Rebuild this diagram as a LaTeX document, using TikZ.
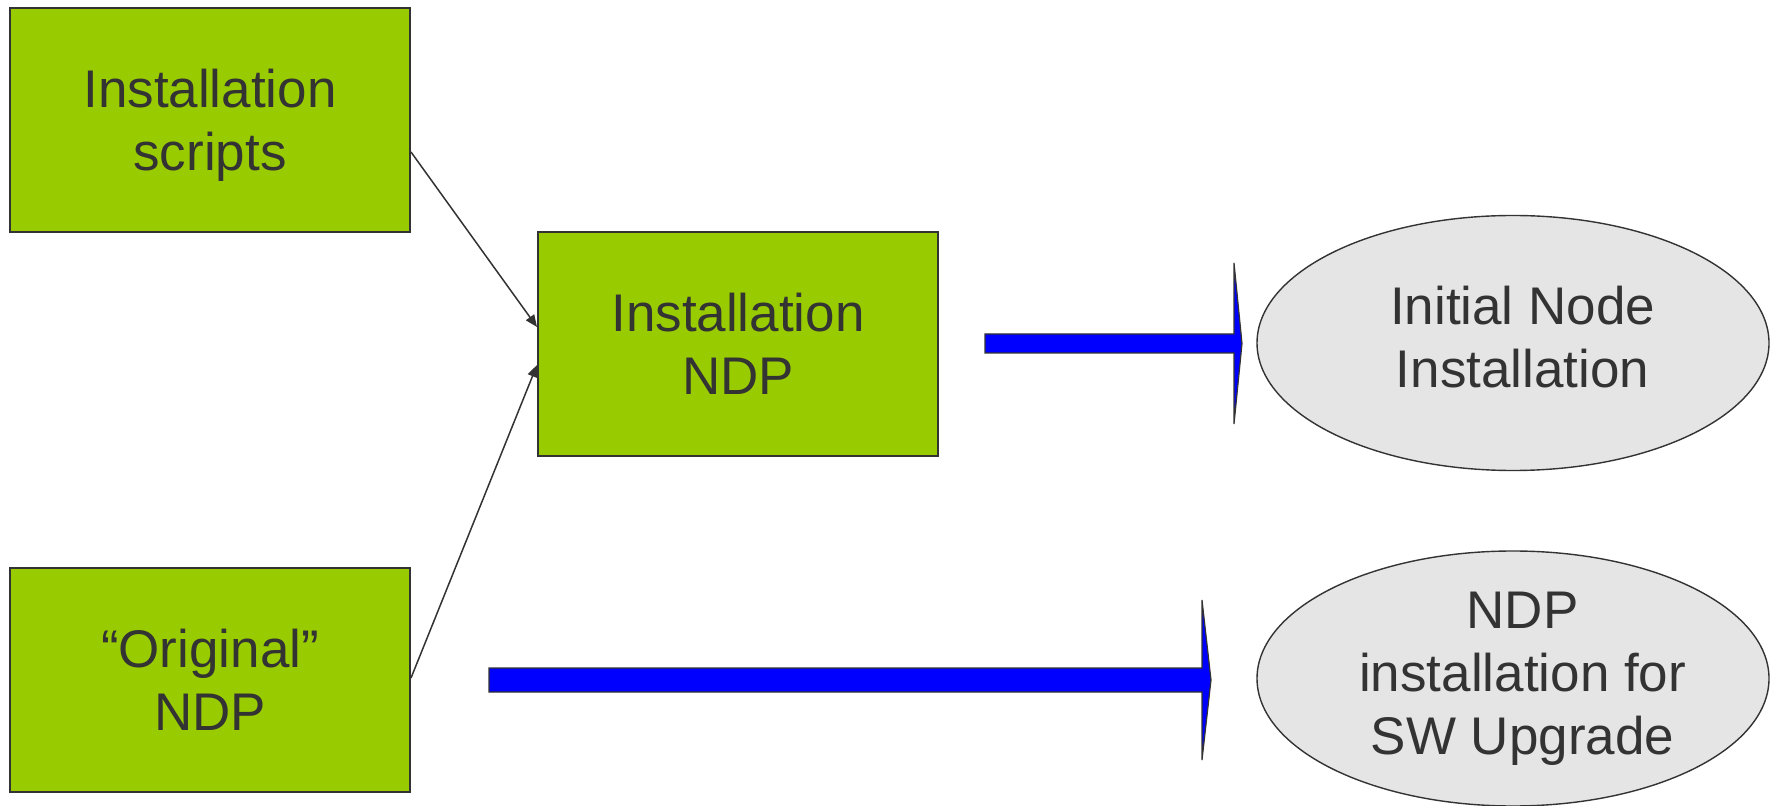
\documentclass[tikz,border=0pt]{standalone}
\usepackage{fontspec}
\setmainfont{Liberation Sans}
\usetikzlibrary{shapes.geometric,arrows.meta}
\definecolor{boxgreen}{HTML}{99CC00}
\definecolor{ovalgray}{HTML}{E5E5E5}
\definecolor{ink}{HTML}{333333}
\definecolor{bigblue}{HTML}{0000FF}
\begin{document}
\begin{tikzpicture}[x=0.5pt,y=-0.5pt,
  lbl/.style={align=center, text=ink, text depth=0pt, inner sep=0pt, font=\fontsize{26.5pt}{31.5pt}\selectfont},
  greenbox/.style={lbl, draw=ink, line width=1pt, fill=boxgreen, minimum width=200pt, minimum height=112pt},
  oval/.style={ellipse, draw=ink, line width=0.7pt, fill=ovalgray, minimum width=256pt, minimum height=127.5pt, inner sep=0pt},
  thinarrow/.style={draw=ink, line width=0.75pt, -{Triangle[length=6pt,width=5pt]}},
  blockarrow/.style={fill=bigblue, draw=ink, line width=0.6pt, line join=miter}]
\useasboundingbox (0,0) rectangle (1777,806);
\fill[white] (0,0) rectangle (1777,806);

\node[greenbox] (b1) at (210,120) {Installation\\scripts};
\node[greenbox] (b2) at (738,344) {Installation\\NDP};
\node[greenbox] (b3) at (210,680) {“Original”\\NDP};

\node[oval] (e1) at (1513,343) {};
\node[lbl] (e1t) at ([xshift=4.8pt,yshift=3pt]e1.center) {Initial Node\\Installation};
\node[oval] (e2) at (1513,678.5) {};
\node[lbl] (e2t) at ([xshift=4.8pt,yshift=2.5pt]e2.center) {NDP\\installation for\\SW Upgrade};

\draw[thinarrow] ([yshift=-16pt]b1.east) -- ([yshift=8.5pt]b2.west);
\draw[thinarrow] ([yshift=1pt]b3.east) -- ([yshift=-10.5pt]b2.west);

\draw[blockarrow] (985,334) -- (1234,334) -- (1234,263) -- (1242,343.5) -- (1234,424) -- (1234,353) -- (985,353) -- cycle;
\draw[blockarrow] (489,668) -- (1202,668) -- (1202,600) -- (1211,680) -- (1202,760) -- (1202,692) -- (489,692) -- cycle;
\end{tikzpicture}
\end{document}
